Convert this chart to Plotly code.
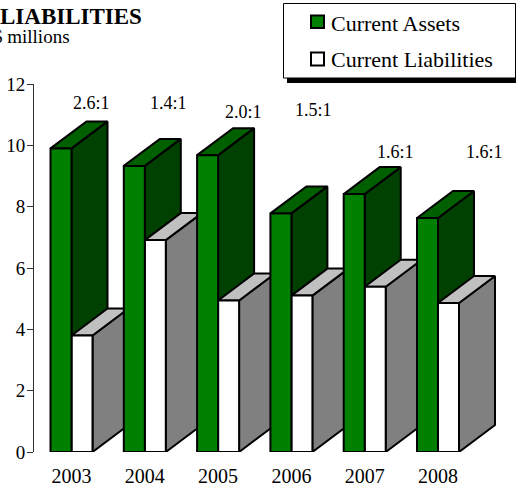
import plotly.graph_objects as go

years = [2003, 2004, 2005, 2006, 2007, 2008]
current_assets = [9.9, 9.33, 9.68, 7.78, 8.41, 7.63]
current_liabilities = [3.8, 6.91, 4.94, 5.1, 5.39, 4.86]
ratios = ["2.6:1", "1.4:1", "2.0:1", "1.5:1", "1.6:1", "1.6:1"]
y_ticks = [0, 2, 4, 6, 8, 10, 12]

W, H = 516, 488
L, T, B = 34, 84, 36
GROUP_PX = 73.3
CENTER_PX = 71.5
plot_w = W - L
plot_h = H - T - B
UY = plot_h / 12
bw = 21 / GROUP_PX
dx = 36 / GROUP_PX
dy = 27 / UY
x0 = years[0] - (CENTER_PX - L) / GROUP_PX
x1 = years[0] + (W - CENTER_PX) / GROUP_PX

SERIF = "Liberation Serif"
fig = go.Figure()


def poly(xs, ys, color):
    fig.add_trace(go.Scatter(
        x=xs + xs[:1], y=ys + ys[:1], mode="lines", fill="toself", fillcolor=color,
        line=dict(color="black", width=2), hoverinfo="skip", showlegend=False,
        cliponaxis=False))


def box(left, val, front, top, side, do_front=True):
    r = left + bw
    poly([r, r + dx, r + dx, r], [0, dy, val + dy, val], side)
    poly([left, r, r + dx, left + dx], [val, val, val + dy, val + dy], top)
    if do_front:
        poly([left, r, r, left], [0, 0, val, val], front)


for yr, a, l in zip(years, current_assets, current_liabilities):
    box(yr - bw, a, "#008000", "#006000", "#004000", do_front=False)
    box(yr, l, "#ffffff", "#c0c0c0", "#808080")
    poly([yr - bw, yr, yr, yr - bw], [0, 0, a, a], "#008000")


def px(x):
    return (x - L) / plot_w


def py(y):
    return 1 - (y - T) / plot_h


shapes = [
    dict(type="rect", xref="paper", yref="paper", x0=px(287), x1=px(516), y0=py(83), y1=py(8),
         fillcolor="black", line=dict(width=0), layer="above"),
    dict(type="rect", xref="paper", yref="paper", x0=px(283.5), x1=px(515.5), y0=py(78), y1=py(3.5),
         fillcolor="white", line=dict(color="black", width=1), layer="above"),
    dict(type="rect", xref="paper", yref="paper", x0=px(311), x1=px(324), y0=py(28), y1=py(15.5),
         fillcolor="#008000", line=dict(color="black", width=2), layer="above"),
    dict(type="rect", xref="paper", yref="paper", x0=px(311), x1=px(324), y0=py(65.5), y1=py(52.5),
         fillcolor="#ffffff", line=dict(color="black", width=2), layer="above"),
]


def note(text, x, y, size, anchor="center", bold=False):
    return dict(text=f"<b>{text}</b>" if bold else text, x=px(x), y=py(y), xref="paper", yref="paper",
                xanchor=anchor, yanchor="middle", showarrow=False,
                font=dict(family=SERIF, size=size, color="black"))


label_px = [(91.7, 103), (168, 103), (243, 112), (313, 110), (395.7, 152), (484.7, 152)]
annotations = [note(t, x, y, 18) for t, (x, y) in zip(ratios, label_px)]
annotations += [
    note("LIABILITIES", 143.5, 17, 23, "right", True),
    note("$ millions", 71.5, 37, 19, "right"),
    note("Current Assets", 328.5, 23, 22, "left"),
    note("Current Liabilities", 328.5, 60, 22, "left"),
]

fig.update_layout(
    width=W, height=H, margin=dict(l=L, r=0, t=T, b=B),
    paper_bgcolor="white", plot_bgcolor="white", showlegend=False,
    shapes=shapes, annotations=annotations,
    font=dict(family=SERIF, color="black"),
    xaxis=dict(range=[x0, x1], tickmode="array", tickvals=years, ticktext=[str(y) for y in years],
               showgrid=False, zeroline=False, showline=False, ticks="", ticklabelstandoff=10,
               automargin=False, tickfont=dict(family=SERIF, size=20)),
    yaxis=dict(range=[0, 12], tickmode="array", tickvals=y_ticks, showgrid=False, zeroline=False,
               showline=True, linecolor="#333333", linewidth=1, ticks="outside", ticklen=6,
               tickcolor="#333333", tickwidth=1, ticklabelstandoff=-2,
               automargin=False, tickfont=dict(family=SERIF, size=19)),
)

fig.write_html("out.html", config={"displayModeBar": False},
               post_script="document.body.style.margin='0';")
